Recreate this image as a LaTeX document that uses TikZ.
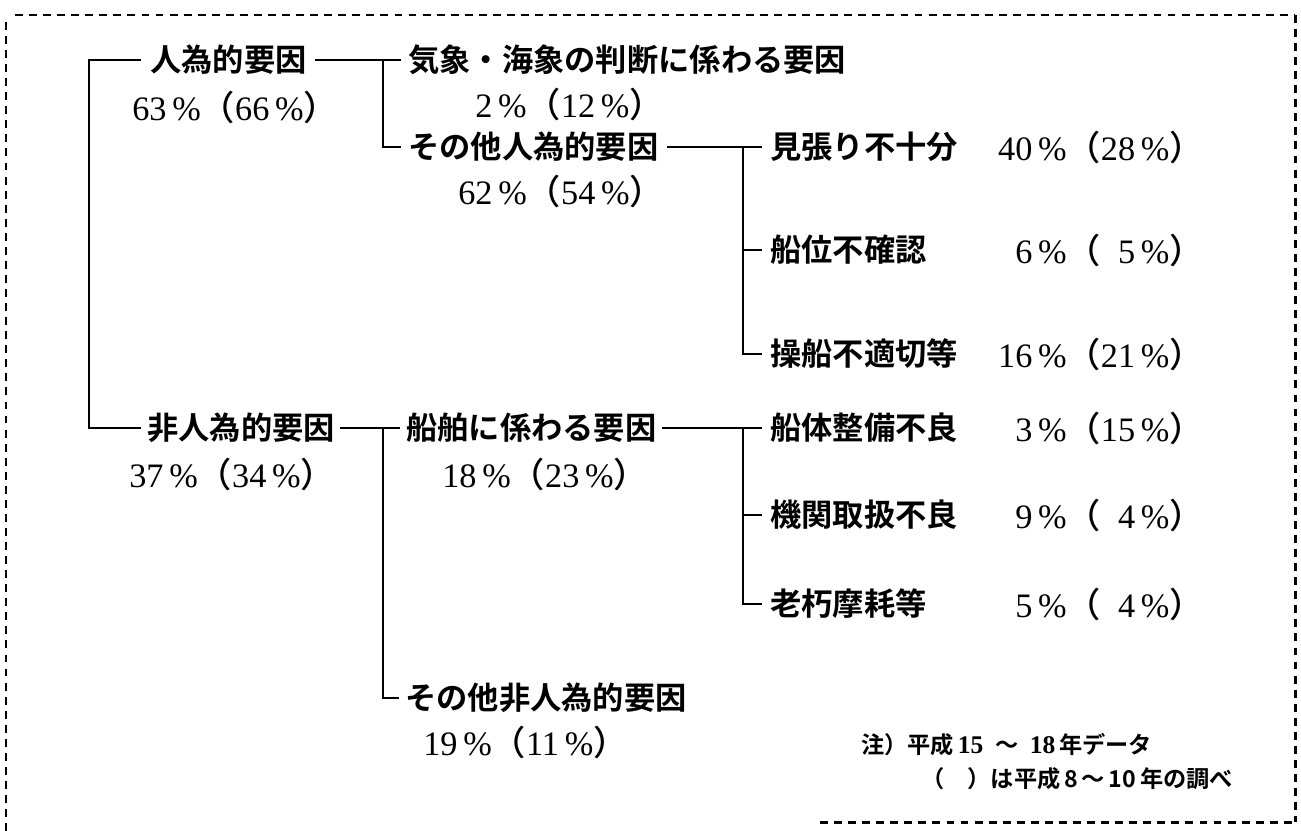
\documentclass[tikz,border=0pt]{standalone}
\usepackage{fontspec}
\setmainfont{Liberation Serif}
\newfontfamily\jpb{Noto Sans CJK JP Bold}
\newfontfamily\jpr{Noto Sans CJK JP Medium}
\usetikzlibrary{calc}
\newcommand\pc[2]{#1\,\%{\jpr （}#2\,\%{\jpr ）}}
\newcommand\nd[1]{{\rmfamily\bfseries\fontsize{14.5}{15}\selectfont #1}}
\tikzset{
  lab/.style={inner sep=0pt, anchor=west, font=\jpb\fontsize{17.8}{20}\selectfont},
  pct/.style={inner sep=0pt, anchor=west, font=\fontsize{19.5}{22}\selectfont},
  pctr/.style={inner sep=0pt, anchor=east, font=\fontsize{19.5}{22}\selectfont},
  note/.style={inner sep=0pt, anchor=west, font=\jpb\fontsize{13.2}{15}\selectfont},
  conn/.style={line width=1.3pt, line cap=butt, line join=miter},
  border/.style={line width=1.7pt, dash pattern=on 4.5pt off 3.5pt}
}
\begin{document}
\begin{tikzpicture}[x=0.02cm, y=-0.02cm]
\useasboundingbox (0,0) rectangle (1301,831);
% border
\draw[border] (15,15) -- (1295,15);
\draw[border] (6,22) -- (6,831);
\draw[border] (1295,15) -- (1295,822);
\draw[border] (820,822) -- (1295,822);

% junction x positions
\coordinate (a) at (89,0);
\coordinate (b) at (383,0);
\coordinate (c) at (743,0);

% level 1
\node[lab] (n1) at (150,60) {人為的要因};
\node[pct] (p1) at (132,107) {\pc{63}{66}};
\node[lab] (n2) at (147,428) {非人為的要因};
\node[pct] (p2) at (129,474) {\pc{37}{34}};

% level 2
\node[lab] (n11) at (408,60) {気象・海象の判断に係わる要因};
\node[pct] (p11) at (475,104) {\pc{2}{12}};
\node[lab] (n12) at (408,147) {その他人為的要因};
\node[pct] (p12) at (458,191) {\pc{62}{54}};
\node[lab] (n21) at (406,428) {船舶に係わる要因};
\node[pct] (p21) at (442,474) {\pc{18}{23}};
\node[lab] (n22) at (405,698) {その他非人為的要因};
\node[pct] (p22) at (423,742) {\pc{19}{11}};

% level 3
\node[lab] (l1) at (770,147) {見張り不十分};
\node[pctr] (q1) at (1204,147) {\pc{40}{28}};
\node[lab] (l2) at (770,250) {船位不確認};
\node[pctr] (q2) at (1204,250) {\pc{6}{\phantom{0}5}};
\node[lab] (l3) at (770,354) {操船不適切等};
\node[pctr] (q3) at (1204,354) {\pc{16}{21}};
\node[lab] (l4) at (770,428) {船体整備不良};
\node[pctr] (q4) at (1204,428) {\pc{3}{15}};
\node[lab] (l5) at (770,515) {機関取扱不良};
\node[pctr] (q5) at (1204,515) {\pc{9}{\phantom{0}4}};
\node[lab] (l6) at (770,604) {老朽摩耗等};
\node[pctr] (q6) at (1204,604) {\pc{5}{\phantom{0}4}};

% notes
\node[note] (m1) at (861,745) {注）平成\,\nd{15}\enspace～\enspace\nd{18}\,年データ};
\node[note] (m2) at (921,779) {（　）は平成\,8\,～\,10\,年の調べ};

% connectors level 1
\draw[conn] ($(n1.west)+(-9,0)$) -| (a |- n2.west) -- ($(n2.west)+(-6,0)$);
% level 2 upper
\draw[conn] ($(n1.east)+(8,0)$) -- ($(n11.west)+(-7,0)$);
\draw[conn] (b |- n11.west) |- ($(n12.west)+(-7,0)$);
% level 2 lower
\draw[conn] ($(n2.east)+(5,0)$) -- ($(n21.west)+(-6,0)$);
\draw[conn] (b |- n21.west) |- ($(n22.west)+(-6,0)$);
% level 3 upper
\draw[conn] ($(n12.east)+(8,0)$) -- ($(l1.west)+(-8,0)$);
\draw[conn] (c |- l1.west) |- ($(l3.west)+(-8,0)$);
\draw[conn] (c |- l2.west) -- ($(l2.west)+(-8,0)$);
% level 3 lower
\draw[conn] ($(n21.east)+(5,0)$) -- ($(l4.west)+(-8,0)$);
\draw[conn] (c |- l4.west) |- ($(l6.west)+(-8,0)$);
\draw[conn] (c |- l5.west) -- ($(l5.west)+(-8,0)$);
\end{tikzpicture}
\end{document}
